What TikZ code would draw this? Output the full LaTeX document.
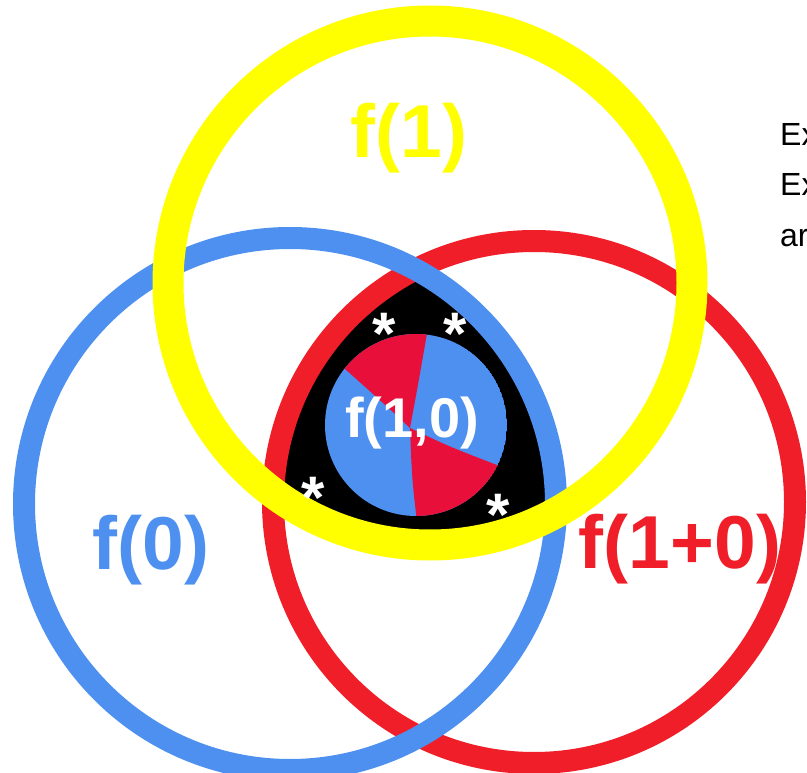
\documentclass[tikz,border=0pt]{standalone}
\usepackage{fontspec}
\setmainfont{Liberation Sans}
\definecolor{vennyellow}{RGB}{255,255,0}
\definecolor{vennblue}{RGB}{77,144,240}
\definecolor{vennred}{RGB}{240,30,40}
\definecolor{innerred}{RGB}{232,16,58}

\begin{document}
\begin{tikzpicture}[x=1pt, y=-1pt,
  biglabel/.style={font=\fontsize{75}{75}\selectfont\bfseries, inner sep=0pt},
  starmark/.style={text=white, font=\fontsize{60}{60}\selectfont\bfseries, inner sep=0pt},
  note/.style={font=\fontsize{32}{32}\selectfont, anchor=base west, inner sep=0pt}]
  \useasboundingbox[fill=white] (0,0) rectangle (807,773);
  \coordinate (cy) at (430,283);
  \coordinate (cb) at (290,504);
  \coordinate (cr) at (534,502);
  \coordinate (cm) at (416,425);
  \coordinate (cross) at (410,428);
  % black core
  \begin{scope}
    \clip (cr) circle[radius=261pt];
    \clip (cb) circle[radius=266pt];
    \fill[black] (cy) circle[radius=262pt];
  \end{scope}
  % rings
  \draw[vennred, line width=22pt] (cr) circle[radius=261pt];
  \draw[vennblue, line width=22pt] (cb) circle[radius=266pt];
  \draw[vennyellow, line width=31pt] (cy) circle[radius=262pt];
  % inner disc
  \begin{scope}
    \clip (cm) circle[radius=91pt];
    \fill[vennblue] (cm) circle[radius=91pt];
    \fill[innerred] (cross) .. controls (392,411) .. (335,360) -- (300,320) -- (440,290) -- (429,322) .. controls (418,385) .. (cross) -- cycle;
    \fill[innerred] (cross) .. controls (450,447) .. (510,470) -- (540,510) -- (420,560) -- (418,530) .. controls (412,480) .. (cross) -- cycle;
  \end{scope}
  \node[biglabel, text=vennyellow] (lone) at (409,138) {f(1)};
  \node[biglabel, text=vennblue] (lzero) at (151,550) {f(0)};
  \node[biglabel, text=vennred] (lsum) at (680,549) {f(1+0)};
  \node[biglabel, text=white, font=\fontsize{56}{56}\selectfont\bfseries] (lpair) at (412,423) {f(1,0)};
  \node[starmark] (sa) at (384,334) {*};
  \node[starmark] (sb) at (455,334) {*};
  \node[starmark] (sc) at (313,498) {*};
  \node[starmark] (sd) at (498,515) {*};
  \node[note] (lna) at (780,146) {Ex};
  \node[note] (lnb) at (780,196) {Ex};
  \node[note] (lnc) at (780,247) {ar};
\end{tikzpicture}
\end{document}
